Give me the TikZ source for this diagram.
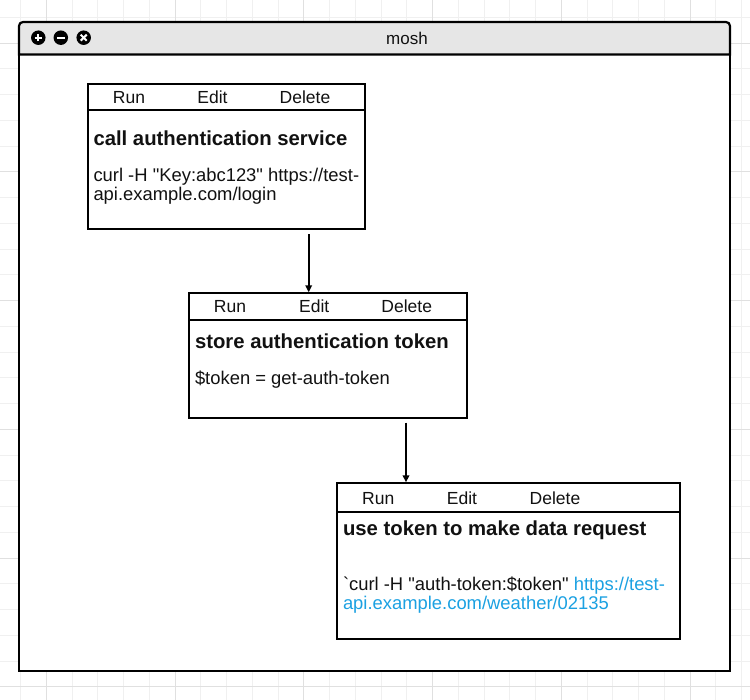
\documentclass[tikz,border=0pt]{standalone}
\usepackage{fontspec}
\setmainfont{Liberation Sans}[Ligatures=TeXOff]
\usetikzlibrary{arrows.meta}
\definecolor{gridminor}{HTML}{F0F0F0}
\definecolor{gridmajor}{HTML}{E0E0E0}
\definecolor{barfill}{HTML}{E6E6E6}
\definecolor{linkblue}{HTML}{1BA1E2}
\definecolor{txt}{HTML}{111111}
\begin{document}
\begin{tikzpicture}[x=1pt,y=-1pt,
  card/.style={draw=black, line width=2pt, fill=white, inner sep=0pt},
  sepline/.style={line width=2pt},
  hdr/.style={anchor=base, inner sep=0pt, text=txt, font=\fontsize{17.5}{19.5}\selectfont},
  ttl/.style={anchor=base west, inner sep=0pt, text=txt, font=\fontsize{20.3}{22}\selectfont\bfseries},
  bodytxt/.style={anchor=base west, inner sep=0pt, text=txt, font=\fontsize{18.4}{20}\selectfont},
  flow/.style={line width=2pt, -{Triangle[length=7pt,width=6.5pt]}, shorten <=4pt},
  icon/.style={circle, fill=black, minimum size=14.5pt, inner sep=0pt},
  iconmark/.style={white, line width=2.3pt}
]
\useasboundingbox (0,0) rectangle (750,700);
\fill[white] (0,0) rectangle (750,700);
% grid
\foreach \i in {0,...,28} {\draw[gridminor, line width=1pt] (20.7+\i*25.75,0) -- (20.7+\i*25.75,700);}
\foreach \j in {0,...,26} {\draw[gridminor, line width=1pt] (0,17.3+\j*25.75) -- (750,17.3+\j*25.75);}
\foreach \i in {1,6,...,26} {\draw[gridmajor, line width=1pt] (20.7+\i*25.75,0) -- (20.7+\i*25.75,700);}
\foreach \j in {1,6,...,26} {\draw[gridmajor, line width=1pt] (0,17.3+\j*25.75) -- (750,17.3+\j*25.75);}

% window
\draw[line width=2.2pt, fill=white] (19,54.5) -- (19,671) -- (730,671) -- (730,54.5);
\draw[line width=2.2pt, fill=barfill] (19,54.5) [rounded corners=4pt] -- (19,22) -- (730,22) [sharp corners] -- (730,54.5) -- cycle;
\node[anchor=base, inner sep=0pt, text=txt, font=\fontsize{17}{19}\selectfont] (wtitle) at (407,44.5) {mosh};

% window icons
\node[icon] (iplus) at (38.3,37.7) {};
\draw[iconmark] ([xshift=-3.8pt]iplus.center) -- ([xshift=3.8pt]iplus.center);
\draw[iconmark] ([yshift=-3.8pt]iplus.center) -- ([yshift=3.8pt]iplus.center);
\node[icon] (iminus) at (60.8,37.7) {};
\draw[iconmark] ([xshift=-4pt]iminus.center) -- ([xshift=4pt]iminus.center);
\node[icon] (iclose) at (83.7,37.7) {};
\draw[iconmark, line width=2.1pt] ([shift={(-3pt,-3pt)}]iclose.center) -- ([shift={(3pt,3pt)}]iclose.center);
\draw[iconmark, line width=2.1pt] ([shift={(-3pt,3pt)}]iclose.center) -- ([shift={(3pt,-3pt)}]iclose.center);

% card 1
\node[card, minimum width=277.3pt, minimum height=145.6pt] (c1) at (226.35,156.5) {};
\draw[sepline] (87.7,110) -- (365,110);
\node[hdr] (c1run) at (129,103.2) {Run};
\node[hdr] (c1edit) at (212.5,103.2) {Edit};
\node[hdr] (c1del) at (305,103.2) {Delete};
\node[ttl] (c1t) at (93.3,145.5) {call authentication service};
\node[bodytxt] (c1b1) at (93.3,182) {curl -H "Key:abc123" https://test-};
\node[bodytxt] (c1b2) at (93.3,201) {api.example.com/login};

% card 2
\node[card, minimum width=277.7pt, minimum height=124.4pt] (c2) at (327.85,355.5) {};
\draw[sepline] (189,320) -- (466.7,320);
\node[hdr] (c2run) at (230,313) {Run};
\node[hdr] (c2edit) at (314.2,313) {Edit};
\node[hdr] (c2del) at (406.7,313) {Delete};
\node[ttl] (c2t) at (194.8,348.5) {store authentication token};
\node[bodytxt] (c2b1) at (194.8,385) {\$token = get-auth-token};

% card 3
\node[card, minimum width=343.3pt, minimum height=155.7pt] (c3) at (508.35,561.15) {};
\draw[sepline] (336.7,512) -- (680,512);
\node[hdr] (c3run) at (378.2,504.3) {Run};
\node[hdr] (c3edit) at (462,504.3) {Edit};
\node[hdr] (c3del) at (555,504.3) {Delete};
\node[ttl] (c3t) at (342.8,535.5) {use token to make data request};
\node[bodytxt] (c3b1) at (342.8,590) {`curl -H "auth-token:\$token" \textcolor{linkblue}{https://test-}};
\node[bodytxt, text=linkblue] (c3b2) at (342.8,609) {api.example.com/weather/02135};

% connectors
\coordinate (ax1) at (308.7,0);
\coordinate (ax2) at (406,0);
\draw[flow] (c1.south -| ax1) -- (c2.north -| ax1);
\draw[flow] (c2.south -| ax2) -- (c3.north -| ax2);
\end{tikzpicture}
\end{document}
